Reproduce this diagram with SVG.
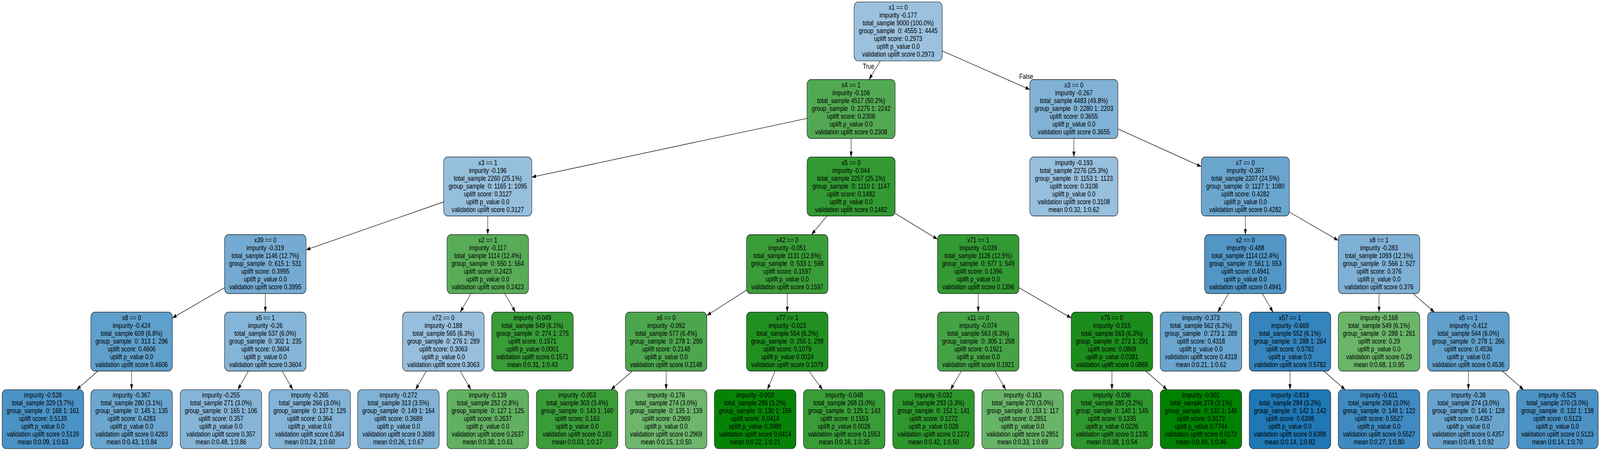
<svg xmlns="http://www.w3.org/2000/svg" width="5337" height="1155" viewBox="0 0 5337 1155" preserveAspectRatio="none">
<style>
svg{width:100vw;height:100vh;display:block}
rect.b{stroke:#000;stroke-width:1.2}
text{font-family:"Liberation Sans",Arial,Helvetica,sans-serif;font-size:19px;text-anchor:middle;fill:#000}
.e line{stroke:#000;stroke-width:1.3;marker-end:url(#ah)}
</style>
<defs>
<marker id="ah" viewBox="0 0 14 10" refX="14" refY="5" markerWidth="14" markerHeight="10" markerUnits="userSpaceOnUse" orient="auto"><path d="M0,0 L14,5 L0,10 z" fill="#000"/></marker>
</defs>
<rect width="5337" height="1155" fill="#fff"/>
<g id="connectors" class="e">
<line x1="2936.3" y1="156" x2="2898.7" y2="203.6"/>
<line x1="3143" y1="130.3" x2="3435" y2="229.3"/>
<line x1="2692" y1="303.2" x2="1774" y2="453.6"/>
<line x1="2839" y1="354.6" x2="2839" y2="402.2"/>
<line x1="3582" y1="354.6" x2="3582" y2="402.2"/>
<line x1="3729" y1="330.1" x2="4007" y2="426.7"/>
<line x1="1480" y1="517" x2="1021" y2="639.9"/>
<line x1="1627" y1="553.2" x2="1627" y2="600.8"/>
<line x1="2758" y1="553.2" x2="2707" y2="600.8"/>
<line x1="2986" y1="546.6" x2="3127" y2="612.6"/>
<line x1="4154" y1="553.2" x2="4154" y2="600.8"/>
<line x1="4301" y1="543.2" x2="4464" y2="615.7"/>
<line x1="749" y1="736.9" x2="575" y2="814.3"/>
<line x1="885" y1="751.8" x2="885" y2="799.4"/>
<line x1="1570.7" y1="751.8" x2="1535.3" y2="799.4"/>
<line x1="1683.6" y1="751.8" x2="1719.4" y2="799.4"/>
<line x1="2490" y1="743.2" x2="2358" y2="808"/>
<line x1="2626" y1="751.8" x2="2626" y2="799.4"/>
<line x1="3263" y1="751.8" x2="3263" y2="799.4"/>
<line x1="3399" y1="736.9" x2="3573" y2="814.3"/>
<line x1="4097.7" y1="751.8" x2="4062.3" y2="799.4"/>
<line x1="4210.6" y1="751.8" x2="4246.4" y2="799.4"/>
<line x1="4600" y1="751.8" x2="4600" y2="799.4"/>
<line x1="4713.3" y1="751.8" x2="4784.7" y2="799.4"/>
<line x1="326.5" y1="950.4" x2="255.5" y2="998"/>
<line x1="439" y1="950.4" x2="439" y2="998"/>
<line x1="828.7" y1="950.4" x2="793.3" y2="998"/>
<line x1="941.3" y1="950.4" x2="976.7" y2="998"/>
<line x1="1422" y1="950.4" x2="1386" y2="998"/>
<line x1="1535.3" y1="950.4" x2="1570.7" y2="998"/>
<line x1="2109.1" y1="950.4" x2="2037.9" y2="998"/>
<line x1="2222" y1="950.4" x2="2222" y2="998"/>
<line x1="2585.3" y1="950.4" x2="2559.7" y2="998"/>
<line x1="2698.2" y1="950.4" x2="2743.8" y2="998"/>
<line x1="3206.4" y1="950.4" x2="3170.6" y2="998"/>
<line x1="3319.3" y1="950.4" x2="3354.7" y2="998"/>
<line x1="3709" y1="950.4" x2="3709" y2="998"/>
<line x1="3821.9" y1="950.4" x2="3893.1" y2="998"/>
<line x1="4303" y1="950.4" x2="4303" y2="998"/>
<line x1="4415.9" y1="950.4" x2="4487.1" y2="998"/>
<line x1="4898" y1="950.4" x2="4898" y2="998"/>
<line x1="5010.9" y1="950.4" x2="5082.1" y2="998"/>
<text transform="translate(2897,176) scale(1,0.92)">True</text>
<text transform="translate(3423,202) scale(1,0.92)">False</text>
</g>
<g id="n0" transform="translate(2996,5)"><rect class="b" x="-147" y="0" width="294" height="151" rx="13" fill="#9bc1de"/><text transform="translate(0,20.4) scale(1,0.92)"><tspan x="0" y="0">x1 == 0</tspan><tspan x="0" dy="21.74">impurity -0.177</tspan><tspan x="0" dy="21.74">total_sample 9000 (100.0%)</tspan><tspan x="0" dy="21.74">group_sample&#160; 0: 4555 1: 4445</tspan><tspan x="0" dy="21.74">uplift score: 0.2973</tspan><tspan x="0" dy="21.74">uplift p_value 0.0</tspan><tspan x="0" dy="21.74">validation uplift score 0.2973</tspan></text></g>
<g id="n1" transform="translate(2839,203.6)"><rect class="b" x="-147" y="0" width="294" height="151" rx="13" fill="#53a953"/><text transform="translate(0,20.4) scale(1,0.92)"><tspan x="0" y="0">x4 == 1</tspan><tspan x="0" dy="21.74">impurity -0.106</tspan><tspan x="0" dy="21.74">total_sample 4517 (50.2%)</tspan><tspan x="0" dy="21.74">group_sample&#160; 0: 2275 1: 2242</tspan><tspan x="0" dy="21.74">uplift score: 0.2308</tspan><tspan x="0" dy="21.74">uplift p_value 0.0</tspan><tspan x="0" dy="21.74">validation uplift score 0.2308</tspan></text></g>
<g id="n2" transform="translate(3582,203.6)"><rect class="b" x="-147" y="0" width="294" height="151" rx="13" fill="#81b2d6"/><text transform="translate(0,20.4) scale(1,0.92)"><tspan x="0" y="0">x3 == 0</tspan><tspan x="0" dy="21.74">impurity -0.267</tspan><tspan x="0" dy="21.74">total_sample 4483 (49.8%)</tspan><tspan x="0" dy="21.74">group_sample&#160; 0: 2280 1: 2203</tspan><tspan x="0" dy="21.74">uplift score: 0.3655</tspan><tspan x="0" dy="21.74">uplift p_value 0.0</tspan><tspan x="0" dy="21.74">validation uplift score 0.3655</tspan></text></g>
<g id="n3" transform="translate(1627,402.2)"><rect class="b" x="-147" y="0" width="294" height="151" rx="13" fill="#96bfde"/><text transform="translate(0,20.4) scale(1,0.92)"><tspan x="0" y="0">x3 == 1</tspan><tspan x="0" dy="21.74">impurity -0.196</tspan><tspan x="0" dy="21.74">total_sample 2260 (25.1%)</tspan><tspan x="0" dy="21.74">group_sample&#160; 0: 1165 1: 1095</tspan><tspan x="0" dy="21.74">uplift score: 0.3127</tspan><tspan x="0" dy="21.74">uplift p_value 0.0</tspan><tspan x="0" dy="21.74">validation uplift score 0.3127</tspan></text></g>
<g id="n4" transform="translate(2839,402.2)"><rect class="b" x="-147" y="0" width="294" height="151" rx="13" fill="#339a33"/><text transform="translate(0,20.4) scale(1,0.92)"><tspan x="0" y="0">x5 == 0</tspan><tspan x="0" dy="21.74">impurity -0.044</tspan><tspan x="0" dy="21.74">total_sample 2257 (25.1%)</tspan><tspan x="0" dy="21.74">group_sample&#160; 0: 1110 1: 1147</tspan><tspan x="0" dy="21.74">uplift score: 0.1482</tspan><tspan x="0" dy="21.74">uplift p_value 0.0</tspan><tspan x="0" dy="21.74">validation uplift score 0.1482</tspan></text></g>
<g id="n5" transform="translate(3582,402.2)"><rect class="b" x="-147" y="0" width="294" height="151" rx="13" fill="#97bfde"/><text transform="translate(0,20.4) scale(1,0.92)"><tspan x="0" y="0">impurity -0.193</tspan><tspan x="0" dy="21.74">total_sample 2276 (25.3%)</tspan><tspan x="0" dy="21.74">group_sample&#160; 0: 1153 1: 1123</tspan><tspan x="0" dy="21.74">uplift score: 0.3108</tspan><tspan x="0" dy="21.74">uplift p_value 0.0</tspan><tspan x="0" dy="21.74">validation uplift score 0.3108</tspan><tspan x="0" dy="21.74">mean 0:0.32, 1:0.62</tspan></text></g>
<g id="n6" transform="translate(4154,402.2)"><rect class="b" x="-147" y="0" width="294" height="151" rx="13" fill="#6ba6cf"/><text transform="translate(0,20.4) scale(1,0.92)"><tspan x="0" y="0">x7 == 0</tspan><tspan x="0" dy="21.74">impurity -0.367</tspan><tspan x="0" dy="21.74">total_sample 2207 (24.5%)</tspan><tspan x="0" dy="21.74">group_sample&#160; 0: 1127 1: 1080</tspan><tspan x="0" dy="21.74">uplift score: 0.4282</tspan><tspan x="0" dy="21.74">uplift p_value 0.0</tspan><tspan x="0" dy="21.74">validation uplift score 0.4282</tspan></text></g>
<g id="n7" transform="translate(885,600.8)"><rect class="b" x="-136" y="0" width="272" height="151" rx="13" fill="#75abd2"/><text transform="translate(0,20.4) scale(1,0.92)"><tspan x="0" y="0">x39 == 0</tspan><tspan x="0" dy="21.74">impurity -0.319</tspan><tspan x="0" dy="21.74">total_sample 1146 (12.7%)</tspan><tspan x="0" dy="21.74">group_sample&#160; 0: 615 1: 531</tspan><tspan x="0" dy="21.74">uplift score: 0.3995</tspan><tspan x="0" dy="21.74">uplift p_value 0.0</tspan><tspan x="0" dy="21.74">validation uplift score 0.3995</tspan></text></g>
<g id="n8" transform="translate(1627,600.8)"><rect class="b" x="-136" y="0" width="272" height="151" rx="13" fill="#58ac57"/><text transform="translate(0,20.4) scale(1,0.92)"><tspan x="0" y="0">x2 == 1</tspan><tspan x="0" dy="21.74">impurity -0.117</tspan><tspan x="0" dy="21.74">total_sample 1114 (12.4%)</tspan><tspan x="0" dy="21.74">group_sample&#160; 0: 550 1: 564</tspan><tspan x="0" dy="21.74">uplift score: 0.2423</tspan><tspan x="0" dy="21.74">uplift p_value 0.0</tspan><tspan x="0" dy="21.74">validation uplift score 0.2423</tspan></text></g>
<g id="n9" transform="translate(2626,600.8)"><rect class="b" x="-136" y="0" width="272" height="151" rx="13" fill="#3a9c38"/><text transform="translate(0,20.4) scale(1,0.92)"><tspan x="0" y="0">x42 == 0</tspan><tspan x="0" dy="21.74">impurity -0.051</tspan><tspan x="0" dy="21.74">total_sample 1131 (12.6%)</tspan><tspan x="0" dy="21.74">group_sample&#160; 0: 533 1: 598</tspan><tspan x="0" dy="21.74">uplift score: 0.1597</tspan><tspan x="0" dy="21.74">uplift p_value 0.0</tspan><tspan x="0" dy="21.74">validation uplift score 0.1597</tspan></text></g>
<g id="n10" transform="translate(3263,600.8)"><rect class="b" x="-136" y="0" width="272" height="151" rx="13" fill="#339933"/><text transform="translate(0,20.4) scale(1,0.92)"><tspan x="0" y="0">x71 == 1</tspan><tspan x="0" dy="21.74">impurity -0.039</tspan><tspan x="0" dy="21.74">total_sample 1126 (12.5%)</tspan><tspan x="0" dy="21.74">group_sample&#160; 0: 577 1: 549</tspan><tspan x="0" dy="21.74">uplift score: 0.1396</tspan><tspan x="0" dy="21.74">uplift p_value 0.0</tspan><tspan x="0" dy="21.74">validation uplift score 0.1396</tspan></text></g>
<g id="n11" transform="translate(4154,600.8)"><rect class="b" x="-136" y="0" width="272" height="151" rx="13" fill="#5296c6"/><text transform="translate(0,20.4) scale(1,0.92)"><tspan x="0" y="0">x2 == 0</tspan><tspan x="0" dy="21.74">impurity -0.488</tspan><tspan x="0" dy="21.74">total_sample 1114 (12.4%)</tspan><tspan x="0" dy="21.74">group_sample&#160; 0: 561 1: 553</tspan><tspan x="0" dy="21.74">uplift score: 0.4941</tspan><tspan x="0" dy="21.74">uplift p_value 0.0</tspan><tspan x="0" dy="21.74">validation uplift score 0.4941</tspan></text></g>
<g id="n12" transform="translate(4600,600.8)"><rect class="b" x="-136" y="0" width="272" height="151" rx="13" fill="#7fb0d5"/><text transform="translate(0,20.4) scale(1,0.92)"><tspan x="0" y="0">x8 == 1</tspan><tspan x="0" dy="21.74">impurity -0.283</tspan><tspan x="0" dy="21.74">total_sample 1093 (12.1%)</tspan><tspan x="0" dy="21.74">group_sample&#160; 0: 566 1: 527</tspan><tspan x="0" dy="21.74">uplift score: 0.376</tspan><tspan x="0" dy="21.74">uplift p_value 0.0</tspan><tspan x="0" dy="21.74">validation uplift score 0.376</tspan></text></g>
<g id="n13" transform="translate(439,799.4)"><rect class="b" x="-136" y="0" width="272" height="151" rx="13" fill="#5f9fcb"/><text transform="translate(0,20.4) scale(1,0.92)"><tspan x="0" y="0">x8 == 0</tspan><tspan x="0" dy="21.74">impurity -0.424</tspan><tspan x="0" dy="21.74">total_sample 609 (6.8%)</tspan><tspan x="0" dy="21.74">group_sample&#160; 0: 313 1: 296</tspan><tspan x="0" dy="21.74">uplift score: 0.4606</tspan><tspan x="0" dy="21.74">uplift p_value 0.0</tspan><tspan x="0" dy="21.74">validation uplift score 0.4606</tspan></text></g>
<g id="n14" transform="translate(885,799.4)"><rect class="b" x="-136" y="0" width="272" height="151" rx="13" fill="#85b5d8"/><text transform="translate(0,20.4) scale(1,0.92)"><tspan x="0" y="0">x5 == 1</tspan><tspan x="0" dy="21.74">impurity -0.26</tspan><tspan x="0" dy="21.74">total_sample 537 (6.0%)</tspan><tspan x="0" dy="21.74">group_sample&#160; 0: 302 1: 235</tspan><tspan x="0" dy="21.74">uplift score: 0.3604</tspan><tspan x="0" dy="21.74">uplift p_value 0.0</tspan><tspan x="0" dy="21.74">validation uplift score 0.3604</tspan></text></g>
<g id="n15" transform="translate(1479,799.4)"><rect class="b" x="-136" y="0" width="272" height="151" rx="13" fill="#97bfdd"/><text transform="translate(0,20.4) scale(1,0.92)"><tspan x="0" y="0">x72 == 0</tspan><tspan x="0" dy="21.74">impurity -0.188</tspan><tspan x="0" dy="21.74">total_sample 565 (6.3%)</tspan><tspan x="0" dy="21.74">group_sample&#160; 0: 276 1: 289</tspan><tspan x="0" dy="21.74">uplift score: 0.3063</tspan><tspan x="0" dy="21.74">uplift p_value 0.0</tspan><tspan x="0" dy="21.74">validation uplift score 0.3063</tspan></text></g>
<g id="n16" transform="translate(1776,799.4)"><rect class="b" x="-136" y="0" width="272" height="151" rx="13" fill="#389c37"/><text transform="translate(0,20.4) scale(1,0.92)"><tspan x="0" y="0">impurity -0.049</tspan><tspan x="0" dy="21.74">total_sample 549 (6.1%)</tspan><tspan x="0" dy="21.74">group_sample&#160; 0: 274 1: 275</tspan><tspan x="0" dy="21.74">uplift score: 0.1571</tspan><tspan x="0" dy="21.74">uplift p_value 0.0001</tspan><tspan x="0" dy="21.74">validation uplift score 0.1571</tspan><tspan x="0" dy="21.74">mean 0:0.31, 1:0.43</tspan></text></g>
<g id="n17" transform="translate(2222,799.4)"><rect class="b" x="-136" y="0" width="272" height="151" rx="13" fill="#4da64d"/><text transform="translate(0,20.4) scale(1,0.92)"><tspan x="0" y="0">x6 == 0</tspan><tspan x="0" dy="21.74">impurity -0.092</tspan><tspan x="0" dy="21.74">total_sample 577 (6.4%)</tspan><tspan x="0" dy="21.74">group_sample&#160; 0: 278 1: 299</tspan><tspan x="0" dy="21.74">uplift score: 0.2148</tspan><tspan x="0" dy="21.74">uplift p_value 0.0</tspan><tspan x="0" dy="21.74">validation uplift score 0.2148</tspan></text></g>
<g id="n18" transform="translate(2626,799.4)"><rect class="b" x="-136" y="0" width="272" height="151" rx="13" fill="#219021"/><text transform="translate(0,20.4) scale(1,0.92)"><tspan x="0" y="0">x77 == 1</tspan><tspan x="0" dy="21.74">impurity -0.023</tspan><tspan x="0" dy="21.74">total_sample 554 (6.2%)</tspan><tspan x="0" dy="21.74">group_sample&#160; 0: 255 1: 299</tspan><tspan x="0" dy="21.74">uplift score: 0.1079</tspan><tspan x="0" dy="21.74">uplift p_value 0.0024</tspan><tspan x="0" dy="21.74">validation uplift score 0.1079</tspan></text></g>
<g id="n19" transform="translate(3263,799.4)"><rect class="b" x="-136" y="0" width="272" height="151" rx="13" fill="#45a245"/><text transform="translate(0,20.4) scale(1,0.92)"><tspan x="0" y="0">x11 == 0</tspan><tspan x="0" dy="21.74">impurity -0.074</tspan><tspan x="0" dy="21.74">total_sample 563 (6.3%)</tspan><tspan x="0" dy="21.74">group_sample&#160; 0: 305 1: 258</tspan><tspan x="0" dy="21.74">uplift score: 0.1921</tspan><tspan x="0" dy="21.74">uplift p_value 0.0</tspan><tspan x="0" dy="21.74">validation uplift score 0.1921</tspan></text></g>
<g id="n20" transform="translate(3709,799.4)"><rect class="b" x="-136" y="0" width="272" height="151" rx="13" fill="#1c8d1c"/><text transform="translate(0,20.4) scale(1,0.92)"><tspan x="0" y="0">x75 == 0</tspan><tspan x="0" dy="21.74">impurity -0.015</tspan><tspan x="0" dy="21.74">total_sample 563 (6.3%)</tspan><tspan x="0" dy="21.74">group_sample&#160; 0: 272 1: 291</tspan><tspan x="0" dy="21.74">uplift score: 0.0869</tspan><tspan x="0" dy="21.74">uplift p_value 0.0381</tspan><tspan x="0" dy="21.74">validation uplift score 0.0869</tspan></text></g>
<g id="n21" transform="translate(4006,799.4)"><rect class="b" x="-136" y="0" width="272" height="151" rx="13" fill="#6aa5cf"/><text transform="translate(0,20.4) scale(1,0.92)"><tspan x="0" y="0">impurity -0.373</tspan><tspan x="0" dy="21.74">total_sample 562 (6.2%)</tspan><tspan x="0" dy="21.74">group_sample&#160; 0: 273 1: 289</tspan><tspan x="0" dy="21.74">uplift score: 0.4318</tspan><tspan x="0" dy="21.74">uplift p_value 0.0</tspan><tspan x="0" dy="21.74">validation uplift score 0.4318</tspan><tspan x="0" dy="21.74">mean 0:0.21, 1:0.62</tspan></text></g>
<g id="n22" transform="translate(4303,799.4)"><rect class="b" x="-136" y="0" width="272" height="151" rx="13" fill="#3584bd"/><text transform="translate(0,20.4) scale(1,0.92)"><tspan x="0" y="0">x57 == 1</tspan><tspan x="0" dy="21.74">impurity -0.669</tspan><tspan x="0" dy="21.74">total_sample 552 (6.1%)</tspan><tspan x="0" dy="21.74">group_sample&#160; 0: 288 1: 264</tspan><tspan x="0" dy="21.74">uplift score: 0.5782</tspan><tspan x="0" dy="21.74">uplift p_value 0.0</tspan><tspan x="0" dy="21.74">validation uplift score 0.5782</tspan></text></g>
<g id="n23" transform="translate(4600,799.4)"><rect class="b" x="-136" y="0" width="272" height="151" rx="13" fill="#6bb56a"/><text transform="translate(0,20.4) scale(1,0.92)"><tspan x="0" y="0">impurity -0.168</tspan><tspan x="0" dy="21.74">total_sample 549 (6.1%)</tspan><tspan x="0" dy="21.74">group_sample&#160; 0: 288 1: 261</tspan><tspan x="0" dy="21.74">uplift score: 0.29</tspan><tspan x="0" dy="21.74">uplift p_value 0.0</tspan><tspan x="0" dy="21.74">validation uplift score 0.29</tspan><tspan x="0" dy="21.74">mean 0:0.68, 1:0.95</tspan></text></g>
<g id="n24" transform="translate(4898,799.4)"><rect class="b" x="-136" y="0" width="272" height="151" rx="13" fill="#61a0cc"/><text transform="translate(0,20.4) scale(1,0.92)"><tspan x="0" y="0">x5 == 1</tspan><tspan x="0" dy="21.74">impurity -0.412</tspan><tspan x="0" dy="21.74">total_sample 544 (6.0%)</tspan><tspan x="0" dy="21.74">group_sample&#160; 0: 278 1: 266</tspan><tspan x="0" dy="21.74">uplift score: 0.4536</tspan><tspan x="0" dy="21.74">uplift p_value 0.0</tspan><tspan x="0" dy="21.74">validation uplift score 0.4536</tspan></text></g>
<g id="n25" transform="translate(143,998)"><rect class="b" x="-136" y="0" width="272" height="151" rx="13" fill="#4b92c5"/><text transform="translate(0,20.4) scale(1,0.92)"><tspan x="0" y="0">impurity -0.528</tspan><tspan x="0" dy="21.74">total_sample 329 (3.7%)</tspan><tspan x="0" dy="21.74">group_sample&#160; 0: 168 1: 161</tspan><tspan x="0" dy="21.74">uplift score: 0.5139</tspan><tspan x="0" dy="21.74">uplift p_value 0.0</tspan><tspan x="0" dy="21.74">validation uplift score 0.5139</tspan><tspan x="0" dy="21.74">mean 0:0.09, 1:0.63</tspan></text></g>
<g id="n26" transform="translate(439,998)"><rect class="b" x="-136" y="0" width="272" height="151" rx="13" fill="#6ba6cf"/><text transform="translate(0,20.4) scale(1,0.92)"><tspan x="0" y="0">impurity -0.367</tspan><tspan x="0" dy="21.74">total_sample 280 (3.1%)</tspan><tspan x="0" dy="21.74">group_sample&#160; 0: 145 1: 135</tspan><tspan x="0" dy="21.74">uplift score: 0.4283</tspan><tspan x="0" dy="21.74">uplift p_value 0.0</tspan><tspan x="0" dy="21.74">validation uplift score 0.4283</tspan><tspan x="0" dy="21.74">mean 0:0.43, 1:0.84</tspan></text></g>
<g id="n27" transform="translate(737,998)"><rect class="b" x="-136" y="0" width="272" height="151" rx="13" fill="#86b5d8"/><text transform="translate(0,20.4) scale(1,0.92)"><tspan x="0" y="0">impurity -0.255</tspan><tspan x="0" dy="21.74">total_sample 271 (3.0%)</tspan><tspan x="0" dy="21.74">group_sample&#160; 0: 165 1: 106</tspan><tspan x="0" dy="21.74">uplift score: 0.357</tspan><tspan x="0" dy="21.74">uplift p_value 0.0</tspan><tspan x="0" dy="21.74">validation uplift score 0.357</tspan><tspan x="0" dy="21.74">mean 0:0.48, 1:0.86</tspan></text></g>
<g id="n28" transform="translate(1033,998)"><rect class="b" x="-136" y="0" width="272" height="151" rx="13" fill="#84b4d7"/><text transform="translate(0,20.4) scale(1,0.92)"><tspan x="0" y="0">impurity -0.265</tspan><tspan x="0" dy="21.74">total_sample 266 (3.0%)</tspan><tspan x="0" dy="21.74">group_sample&#160; 0: 137 1: 129</tspan><tspan x="0" dy="21.74">uplift score: 0.364</tspan><tspan x="0" dy="21.74">uplift p_value 0.0</tspan><tspan x="0" dy="21.74">validation uplift score 0.364</tspan><tspan x="0" dy="21.74">mean 0:0.24, 1:0.60</tspan></text></g>
<g id="n29" transform="translate(1329,998)"><rect class="b" x="-136" y="0" width="272" height="151" rx="13" fill="#81b2d6"/><text transform="translate(0,20.4) scale(1,0.92)"><tspan x="0" y="0">impurity -0.272</tspan><tspan x="0" dy="21.74">total_sample 313 (3.5%)</tspan><tspan x="0" dy="21.74">group_sample&#160; 0: 149 1: 164</tspan><tspan x="0" dy="21.74">uplift score: 0.3689</tspan><tspan x="0" dy="21.74">uplift p_value 0.0</tspan><tspan x="0" dy="21.74">validation uplift score 0.3689</tspan><tspan x="0" dy="21.74">mean 0:0.26, 1:0.67</tspan></text></g>
<g id="n30" transform="translate(1627,998)"><rect class="b" x="-136" y="0" width="272" height="151" rx="13" fill="#62b061"/><text transform="translate(0,20.4) scale(1,0.92)"><tspan x="0" y="0">impurity -0.139</tspan><tspan x="0" dy="21.74">total_sample 252 (2.8%)</tspan><tspan x="0" dy="21.74">group_sample&#160; 0: 127 1: 125</tspan><tspan x="0" dy="21.74">uplift score: 0.2637</tspan><tspan x="0" dy="21.74">uplift p_value 0.0</tspan><tspan x="0" dy="21.74">validation uplift score 0.2637</tspan><tspan x="0" dy="21.74">mean 0:0.38, 1:0.61</tspan></text></g>
<g id="n31" transform="translate(1925,998)"><rect class="b" x="-136" y="0" width="272" height="151" rx="13" fill="#3a9c39"/><text transform="translate(0,20.4) scale(1,0.92)"><tspan x="0" y="0">impurity -0.053</tspan><tspan x="0" dy="21.74">total_sample 303 (3.4%)</tspan><tspan x="0" dy="21.74">group_sample&#160; 0: 143 1: 160</tspan><tspan x="0" dy="21.74">uplift score: 0.163</tspan><tspan x="0" dy="21.74">uplift p_value 0.0</tspan><tspan x="0" dy="21.74">validation uplift score 0.163</tspan><tspan x="0" dy="21.74">mean 0:0.03, 1:0.17</tspan></text></g>
<g id="n32" transform="translate(2222,998)"><rect class="b" x="-136" y="0" width="272" height="151" rx="13" fill="#6db66c"/><text transform="translate(0,20.4) scale(1,0.92)"><tspan x="0" y="0">impurity -0.176</tspan><tspan x="0" dy="21.74">total_sample 274 (3.0%)</tspan><tspan x="0" dy="21.74">group_sample&#160; 0: 135 1: 139</tspan><tspan x="0" dy="21.74">uplift score: 0.2969</tspan><tspan x="0" dy="21.74">uplift p_value 0.0</tspan><tspan x="0" dy="21.74">validation uplift score 0.2969</tspan><tspan x="0" dy="21.74">mean 0:0.15, 1:0.50</tspan></text></g>
<g id="n33" transform="translate(2519,998)"><rect class="b" x="-136" y="0" width="272" height="151" rx="13" fill="#068306"/><text transform="translate(0,20.4) scale(1,0.92)"><tspan x="0" y="0">impurity -0.003</tspan><tspan x="0" dy="21.74">total_sample 286 (3.2%)</tspan><tspan x="0" dy="21.74">group_sample&#160; 0: 130 1: 156</tspan><tspan x="0" dy="21.74">uplift score: 0.0414</tspan><tspan x="0" dy="21.74">uplift p_value 0.3989</tspan><tspan x="0" dy="21.74">validation uplift score 0.0414</tspan><tspan x="0" dy="21.74">mean 0:0.22, 1:0.21</tspan></text></g>
<g id="n34" transform="translate(2816,998)"><rect class="b" x="-136" y="0" width="272" height="151" rx="13" fill="#389c37"/><text transform="translate(0,20.4) scale(1,0.92)"><tspan x="0" y="0">impurity -0.048</tspan><tspan x="0" dy="21.74">total_sample 268 (3.0%)</tspan><tspan x="0" dy="21.74">group_sample&#160; 0: 125 1: 143</tspan><tspan x="0" dy="21.74">uplift score: 0.1553</tspan><tspan x="0" dy="21.74">uplift p_value 0.0026</tspan><tspan x="0" dy="21.74">validation uplift score 0.1553</tspan><tspan x="0" dy="21.74">mean 0:0.16, 1:0.35</tspan></text></g>
<g id="n35" transform="translate(3114,998)"><rect class="b" x="-136" y="0" width="272" height="151" rx="13" fill="#2d962d"/><text transform="translate(0,20.4) scale(1,0.92)"><tspan x="0" y="0">impurity -0.032</tspan><tspan x="0" dy="21.74">total_sample 293 (3.3%)</tspan><tspan x="0" dy="21.74">group_sample&#160; 0: 152 1: 141</tspan><tspan x="0" dy="21.74">uplift score: 0.1272</tspan><tspan x="0" dy="21.74">uplift p_value 0.028</tspan><tspan x="0" dy="21.74">validation uplift score 0.1272</tspan><tspan x="0" dy="21.74">mean 0:0.42, 1:0.50</tspan></text></g>
<g id="n36" transform="translate(3411,998)"><rect class="b" x="-136" y="0" width="272" height="151" rx="13" fill="#68b468"/><text transform="translate(0,20.4) scale(1,0.92)"><tspan x="0" y="0">impurity -0.163</tspan><tspan x="0" dy="21.74">total_sample 270 (3.0%)</tspan><tspan x="0" dy="21.74">group_sample&#160; 0: 153 1: 117</tspan><tspan x="0" dy="21.74">uplift score: 0.2851</tspan><tspan x="0" dy="21.74">uplift p_value 0.0</tspan><tspan x="0" dy="21.74">validation uplift score 0.2851</tspan><tspan x="0" dy="21.74">mean 0:0.33, 1:0.69</tspan></text></g>
<g id="n37" transform="translate(3709,998)"><rect class="b" x="-136" y="0" width="272" height="151" rx="13" fill="#2e972e"/><text transform="translate(0,20.4) scale(1,0.92)"><tspan x="0" y="0">impurity -0.036</tspan><tspan x="0" dy="21.74">total_sample 285 (3.2%)</tspan><tspan x="0" dy="21.74">group_sample&#160; 0: 140 1: 145</tspan><tspan x="0" dy="21.74">uplift score: 0.1335</tspan><tspan x="0" dy="21.74">uplift p_value 0.0226</tspan><tspan x="0" dy="21.74">validation uplift score 0.1335</tspan><tspan x="0" dy="21.74">mean 0:0.38, 1:0.54</tspan></text></g>
<g id="n38" transform="translate(4006,998)"><rect class="b" x="-136" y="0" width="272" height="151" rx="13" fill="#008000"/><text transform="translate(0,20.4) scale(1,0.92)"><tspan x="0" y="0">impurity -0.001</tspan><tspan x="0" dy="21.74">total_sample 278 (3.1%)</tspan><tspan x="0" dy="21.74">group_sample&#160; 0: 132 1: 146</tspan><tspan x="0" dy="21.74">uplift score: 0.0172</tspan><tspan x="0" dy="21.74">uplift p_value 0.7744</tspan><tspan x="0" dy="21.74">validation uplift score 0.0172</tspan><tspan x="0" dy="21.74">mean 0:0.49, 1:0.46</tspan></text></g>
<g id="n39" transform="translate(4303,998)"><rect class="b" x="-136" y="0" width="272" height="151" rx="13" fill="#1f77b4"/><text transform="translate(0,20.4) scale(1,0.92)"><tspan x="0" y="0">impurity -0.819</tspan><tspan x="0" dy="21.74">total_sample 284 (3.2%)</tspan><tspan x="0" dy="21.74">group_sample&#160; 0: 142 1: 142</tspan><tspan x="0" dy="21.74">uplift score: 0.6398</tspan><tspan x="0" dy="21.74">uplift p_value 0.0</tspan><tspan x="0" dy="21.74">validation uplift score 0.6398</tspan><tspan x="0" dy="21.74">mean 0:0.14, 1:0.82</tspan></text></g>
<g id="n40" transform="translate(4600,998)"><rect class="b" x="-136" y="0" width="272" height="151" rx="13" fill="#3f8ac1"/><text transform="translate(0,20.4) scale(1,0.92)"><tspan x="0" y="0">impurity -0.611</tspan><tspan x="0" dy="21.74">total_sample 268 (3.0%)</tspan><tspan x="0" dy="21.74">group_sample&#160; 0: 146 1: 122</tspan><tspan x="0" dy="21.74">uplift score: 0.5527</tspan><tspan x="0" dy="21.74">uplift p_value 0.0</tspan><tspan x="0" dy="21.74">validation uplift score 0.5527</tspan><tspan x="0" dy="21.74">mean 0:0.27, 1:0.80</tspan></text></g>
<g id="n41" transform="translate(4898,998)"><rect class="b" x="-136" y="0" width="272" height="151" rx="13" fill="#68a4ce"/><text transform="translate(0,20.4) scale(1,0.92)"><tspan x="0" y="0">impurity -0.38</tspan><tspan x="0" dy="21.74">total_sample 274 (3.0%)</tspan><tspan x="0" dy="21.74">group_sample&#160; 0: 146 1: 128</tspan><tspan x="0" dy="21.74">uplift score: 0.4357</tspan><tspan x="0" dy="21.74">uplift p_value 0.0</tspan><tspan x="0" dy="21.74">validation uplift score 0.4357</tspan><tspan x="0" dy="21.74">mean 0:0.49, 1:0.92</tspan></text></g>
<g id="n42" transform="translate(5195,998)"><rect class="b" x="-136" y="0" width="272" height="151" rx="13" fill="#4b92c5"/><text transform="translate(0,20.4) scale(1,0.92)"><tspan x="0" y="0">impurity -0.525</tspan><tspan x="0" dy="21.74">total_sample 270 (3.0%)</tspan><tspan x="0" dy="21.74">group_sample&#160; 0: 132 1: 138</tspan><tspan x="0" dy="21.74">uplift score: 0.5123</tspan><tspan x="0" dy="21.74">uplift p_value 0.0</tspan><tspan x="0" dy="21.74">validation uplift score 0.5123</tspan><tspan x="0" dy="21.74">mean 0:0.14, 1:0.70</tspan></text></g>
</svg>
